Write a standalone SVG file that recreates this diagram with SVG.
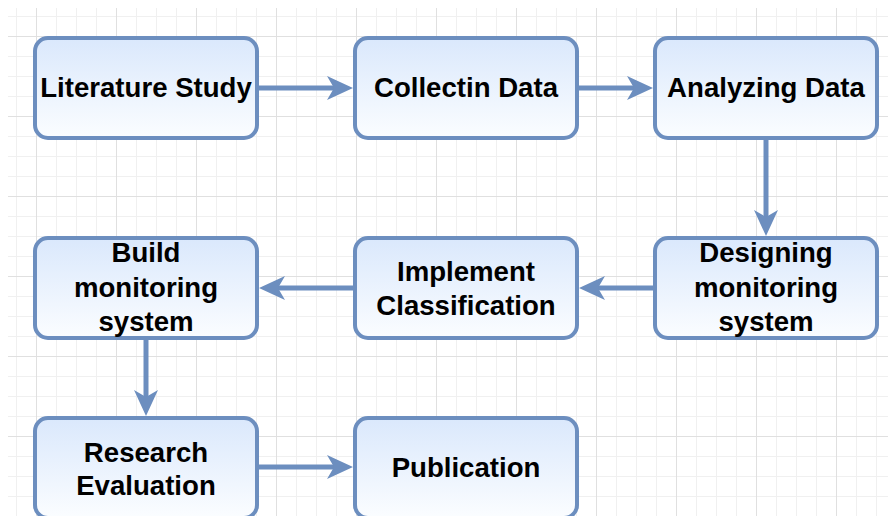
<svg xmlns="http://www.w3.org/2000/svg" width="888" height="516" viewBox="0 0 888 516">
<defs>
<style>
.box{stroke:#6c8ebf;stroke-width:4;fill:url(#g)}
.lbl{font-family:"Liberation Sans",Arial,sans-serif;font-weight:bold;font-size:27.6px;fill:#000;text-anchor:middle}
.edge{stroke:#6c8ebf;stroke-width:5;fill:none}
</style>
<linearGradient id="g" x1="0" y1="0" x2="0" y2="1">
<stop offset="0" stop-color="#dae8fc"/>
<stop offset="1" stop-color="#fbfdff"/>
</linearGradient>
<pattern id="grid" patternUnits="userSpaceOnUse" x="36" y="36" width="80" height="80">
<path d="M20.5 0V80M40.5 0V80M60.5 0V80M0 20.5H80M0 40.5H80M0 60.5H80" stroke="#f0f0f0" stroke-width="1" fill="none"/>
<path d="M0.5 0V80M0 0.5H80" stroke="#e0e0e0" stroke-width="1" fill="none"/>
</pattern>
<marker id="arr" markerUnits="userSpaceOnUse" markerWidth="28" markerHeight="26" refX="7" refY="13" orient="auto" viewBox="0 0 28 26">
<path d="M0 1 L26 13 L0 25 L7 13 Z" fill="#6c8ebf"/>
</marker>
</defs>
<rect width="888" height="516" fill="#fff"/>
<rect x="8" y="8" width="880" height="508" fill="url(#grid)"/>
<g id="connectors">
<path class="edge" d="M258 88H334" marker-end="url(#arr)"/>
<path class="edge" d="M578 88H634" marker-end="url(#arr)"/>
<path class="edge" d="M766 139V217" marker-end="url(#arr)"/>
<path class="edge" d="M654 288H598" marker-end="url(#arr)"/>
<path class="edge" d="M354 288H278" marker-end="url(#arr)"/>
<path class="edge" d="M146 339V397" marker-end="url(#arr)"/>
<path class="edge" d="M258 467H334" marker-end="url(#arr)"/>
</g>
<g id="literature-study"><rect class="box" x="35" y="38" width="222" height="100" rx="13"/><text class="lbl" x="146" y="97">Literature Study</text></g>
<g id="collectin-data"><rect class="box" x="355" y="38" width="222" height="100" rx="13"/><text class="lbl" x="466" y="97">Collectin Data</text></g>
<g id="analyzing-data"><rect class="box" x="655" y="38" width="222" height="100" rx="13"/><text class="lbl" x="766" y="97">Analyzing Data</text></g>
<g id="designing"><rect class="box" x="655" y="238" width="222" height="100" rx="13"/><text class="lbl" x="766" y="262">Designing</text><text class="lbl" x="766" y="297">monitoring</text><text class="lbl" x="766" y="331">system</text></g>
<g id="implement"><rect class="box" x="355" y="238" width="222" height="100" rx="13"/><text class="lbl" x="466" y="281">Implement</text><text class="lbl" x="466" y="315">Classification</text></g>
<g id="build"><rect class="box" x="35" y="238" width="222" height="100" rx="13"/><text class="lbl" x="146" y="262">Build</text><text class="lbl" x="146" y="297">monitoring</text><text class="lbl" x="146" y="331">system</text></g>
<g id="research-evaluation"><rect class="box" x="35" y="418" width="222" height="100" rx="13"/><text class="lbl" x="146" y="462">Research</text><text class="lbl" x="146" y="495">Evaluation</text></g>
<g id="publication"><rect class="box" x="355" y="418" width="222" height="100" rx="13"/><text class="lbl" x="466" y="477">Publication</text></g>
</svg>
